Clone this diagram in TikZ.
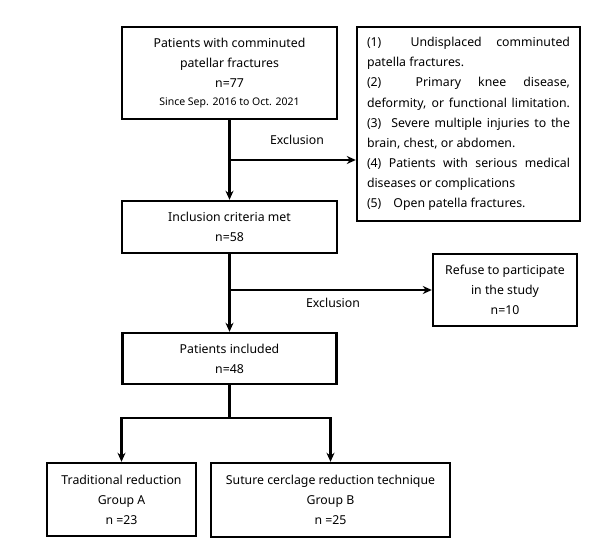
\documentclass[tikz,border=0pt]{standalone}
\usepackage{fontspec}
\setmainfont{Noto Sans}
\usetikzlibrary{arrows.meta}
\begin{document}
\begin{tikzpicture}[x=1pt,y=-1pt,
  box/.style={draw=black,line width=2.4pt,inner sep=0pt,font=\fontsize{12.3}{20}\selectfont,align=center},
  conn/.style={line width=2.2pt,-{Stealth[length=9pt,width=8pt]}},
  plain/.style={line width=2.2pt},
  lbl/.style={font=\fontsize{12.3}{20}\selectfont,inner sep=0pt}]
\useasboundingbox[fill=white] (0,0) rectangle (609,543);
\node[box,minimum width=215pt,minimum height=92pt] (b1) at (229.5,73)
  {Patients with comminuted\\patellar fractures\\n=77\\[-2pt]{\fontsize{10.5}{12}\selectfont Since Sep. 2016 to Oct. 2021}};
\node[box,minimum width=223pt,minimum height=194pt,align=left] (ex) at (468.5,124)
  {\parbox{203pt}{\fontsize{12.3}{20.1}\selectfont
   \makebox[203pt][s]{(1) \ Undisplaced comminuted}\\
   patella fractures.\\
   \makebox[203pt][s]{(2) \ Primary knee disease,}\\
   \makebox[203pt][s]{deformity, or functional limitation.}\\
   \makebox[203pt][s]{(3)\hspace{10pt}Severe multiple injuries to the}\\
   brain, chest, or abdomen.\\
   \makebox[203pt][s]{(4) Patients with serious medical}\\
   diseases or complications\\
   (5)\hspace{12pt}Open patella fractures.}};
\node[box,minimum width=215pt,minimum height=52pt] (b2) at (229.5,227)
  {Inclusion criteria met\\n=58};
\node[box,minimum width=144pt,minimum height=72pt] (rf) at (505,290)
  {Refuse to participate\\in the study\\n=10};
\node[box,minimum width=214pt,minimum height=51pt] (b3) at (229.5,358.5)
  {Patients included\\n=48};
\node[box,minimum width=149pt,minimum height=73pt] (ga) at (121.5,499.5)
  {Traditional reduction\\Group A\\n =23};
\node[box,minimum width=239pt,minimum height=74pt] (gb) at (330.5,500)
  {Suture cerclage reduction technique\\Group B\\n =25};
\coordinate (j1) at (229.5,160);
\coordinate (j2) at (229.5,290);
\coordinate (j3) at (229.5,418);
\coordinate (ja) at (121.5,418);
\coordinate (jb) at (330.5,418);
\draw[conn] (b1.south) -- (b2.north);
\draw[conn] (j1) -- (ex.west |- j1);
\draw[conn] (b2.south) -- (b3.north);
\draw[conn] (j2) -- (rf.west);
\draw[plain] (b3.south) -- (j3);
\draw[plain,line cap=rect] (ja) -- (jb);
\draw[conn] (ja) -- (ga.north);
\draw[conn] (jb) -- (gb.north);
\node[lbl] (l1) at (297,140) {Exclusion};
\node[lbl] (l2) at (333,303) {Exclusion};
\end{tikzpicture}
\end{document}
